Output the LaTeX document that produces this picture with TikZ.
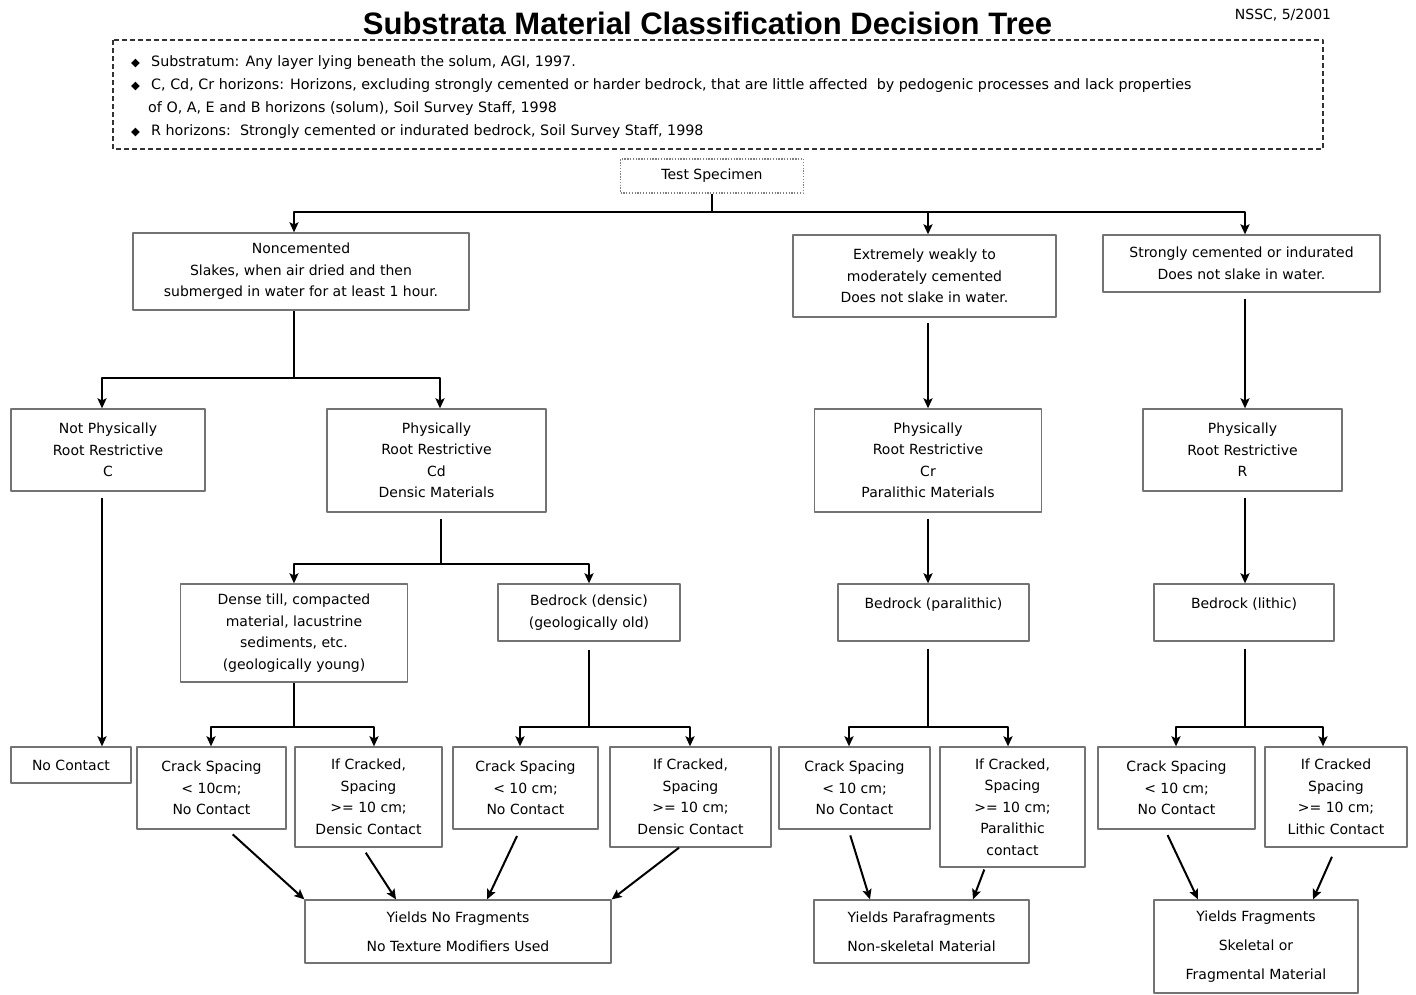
\documentclass[tikz,border=0pt]{standalone}
\usepackage{fontspec}
\setmainfont{DejaVu Sans}
\newfontfamily\titlefont{Liberation Sans}
\usetikzlibrary{arrows.meta}
\begin{document}
\begin{tikzpicture}[x=1pt, y=-1pt, line join=round, >={Stealth[length=10pt,width=9pt,inset=2pt]},
	box/.style={draw=black!55, line width=1.3pt, align=center, inner sep=0pt, font=\fontsize{14}{21.5}\selectfont},
	sz/.style 2 args={minimum width=#1pt, minimum height=#2pt},
	topline/.style={text height=15pt, text depth=24pt},
	wide/.style={font=\fontsize{14}{29}\selectfont},
	link/.style={line width=2pt},
	arr/.style={link, ->}]
	\def\bul{\makebox[22pt][l]{\hspace{2pt}\raisebox{0.5pt}{\fontsize{11.5}{11.5}\selectfont ◆}}}
	\fill[white] (0,0) rectangle (1416,994);
	\useasboundingbox (0,0) rectangle (1416,994);
	% heading and notes
	\node (title) at (707.5,23) {\titlefont\bfseries\fontsize{31}{34}\selectfont Substrata Material Classification Decision Tree};
	\node (stamp) at (1283,15) {\fontsize{14}{16}\selectfont NSSC, 5/2001};
	\draw[black!80, line width=1.3pt, dash pattern=on 5pt off 3pt] (113,40) rectangle (1323,149);
	\node[anchor=west, align=left, inner sep=0pt, font=\fontsize{14.3}{23}\selectfont] (notes) at (129,97.5)
	{\bul Substratum: Any layer lying beneath the solum, AGI, 1997.\\
	\bul C, Cd, Cr horizons: Horizons, excluding strongly cemented or harder bedrock, that are little affected\ \ by pedogenic processes and lack properties\\
	\hspace{19pt}of O, A, E and B horizons (solum), Soil Survey Staff, 1998\\
	\bul R horizons:\ \ Strongly cemented or indurated bedrock, Soil Survey Staff, 1998};
	% boxes
	\node[box, draw=black!50, dash pattern=on 1.3pt off 1.5pt, sz={183}{34}] (test) at (712,176) {Test Specimen};
	\node[box, sz={336}{77}] (noncem) at (301,271.5) {Noncemented\\Slakes, when air dried and then\\submerged in water for at least 1 hour.};
	\node[box, sz={263}{82}] (weak) at (924.5,276) {Extremely weakly to\\moderately cemented\\Does not slake in water.};
	\node[box, sz={277}{57}] (strong) at (1241.5,263.5) {Strongly cemented or indurated\\Does not slake in water.};
	\node[box, sz={194}{82}] (notphys) at (108,450) {Not Physically\\Root Restrictive\\C};
	\node[box, sz={219}{103}] (cd) at (436.5,460.5) {Physically\\Root Restrictive\\Cd\\Densic Materials};
	\node[box, sz={227}{103}] (cr) at (928,460.5) {Physically\\Root Restrictive\\Cr\\Paralithic Materials};
	\node[box, sz={199}{82}] (r) at (1242.5,450) {Physically\\Root Restrictive\\R};
	\node[box, sz={227}{98}] (till) at (294,633) {Dense till, compacted\\material, lacustrine\\sediments, etc.\\(geologically young)};
	\node[box, sz={182}{57}] (densic) at (589,612.5) {Bedrock (densic)\\(geologically old)};
	\node[box, topline, sz={191}{57}] (paral) at (933.5,612.5) {Bedrock (paralithic)};
	\node[box, topline, sz={180}{57}] (lithic) at (1244,612.5) {Bedrock (lithic)};
	\node[box, sz={120}{36}] (nocon) at (71,765) {No Contact};
	\node[box, sz={149}{82}] (crack1) at (211.5,788) {Crack Spacing\\< 10cm;\\No Contact};
	\node[box, sz={147}{100}] (cracked1) at (368.5,797) {If Cracked,\\Spacing\\>= 10 cm;\\Densic Contact};
	\node[box, sz={145}{82}] (crack2) at (525.5,788) {Crack Spacing\\< 10 cm;\\No Contact};
	\node[box, sz={161}{100}] (cracked2) at (690.5,797) {If Cracked,\\Spacing\\>= 10 cm;\\Densic Contact};
	\node[box, sz={151}{82}] (crack3) at (854.5,788) {Crack Spacing\\< 10 cm;\\No Contact};
	\node[box, sz={145}{120}] (cracked3) at (1012.5,807) {If Cracked,\\Spacing\\>= 10 cm;\\Paralithic\\contact};
	\node[box, sz={157}{82}] (crack4) at (1176.5,788) {Crack Spacing\\< 10 cm;\\No Contact};
	\node[box, sz={142}{100}] (cracked4) at (1336,797) {If Cracked\\Spacing\\>= 10 cm;\\Lithic Contact};
	\node[box, wide, sz={306}{63}] (nofrag) at (458,931.5) {Yields No Fragments\\No Texture Modifiers Used};
	\node[box, wide, sz={215}{63}] (parafrag) at (921.5,931.5) {Yields Parafragments\\Non-skeletal Material};
	\node[box, wide, sz={204}{93}] (frag) at (1256,946.5) {Yields Fragments\\Skeletal or\\Fragmental Material};
	% first split
	\draw[link] (test.south) -- ++(0,18) coordinate (t1);
	\draw[arr] (t1) -| ([xshift=-7pt]noncem.north);
	\draw[arr] (t1) -| ([xshift=3.5pt]weak.north);
	\draw[arr] (t1) -| ([xshift=3.5pt]strong.north);
	% noncemented
	\draw[link] ([xshift=-7pt]noncem.south) -- ++(0,67) coordinate (n1);
	\draw[arr] (n1) -| ([xshift=-6pt]notphys.north);
	\draw[arr] (n1) -| ([xshift=3.5pt]cd.north);
	\draw[arr, shorten <=6pt] ([xshift=-6pt]notphys.south) -- ([xshift=-6pt]notphys.south |- nocon.north);
	\draw[link, shorten <=6pt] ([xshift=4.5pt]cd.south) -- ++(0,51) coordinate (c1);
	\draw[arr] (c1) -| (till.north);
	\draw[arr] (c1) -| (densic.north);
	% cemented
	\draw[arr, shorten <=5pt] (cr.north |- weak.south) -- (cr.north);
	\draw[arr, shorten <=6pt] ([xshift=2.5pt]r.north |- strong.south) -- ([xshift=2.5pt]r.north);
	\draw[arr, shorten <=6pt] (cr.south) -- (cr.south |- paral.north);
	\draw[arr, shorten <=6pt] ([xshift=2.5pt]r.south) -- ([xshift=2.5pt]r.south |- lithic.north);
	% crack spacing
	\draw[link] (till.south) -- ++(0,44) coordinate (d1);
	\draw[arr] (d1) -| ([xshift=-0.5pt]crack1.north);
	\draw[arr] (d1) -| ([xshift=5.5pt]cracked1.north);
	\draw[link, shorten <=8pt] (densic.south) -- ++(0,85) coordinate (d2);
	\draw[arr] (d2) -| ([xshift=-5.5pt]crack2.north);
	\draw[arr] (d2) -| ([xshift=-0.5pt]cracked2.north);
	\draw[link, shorten <=7pt] ([xshift=-5.5pt]paral.south) -- ++(0,85) coordinate (d3);
	\draw[arr] (d3) -| ([xshift=-5.5pt]crack3.north);
	\draw[arr] (d3) -| ([xshift=-4.5pt]cracked3.north);
	\draw[link, shorten <=7pt] ([xshift=1pt]lithic.south) -- ++(0,85) coordinate (d4);
	\draw[arr] (d4) -| ([xshift=-0.5pt]crack4.north);
	\draw[arr] (d4) -| ([xshift=-13pt]cracked4.north);
	% fragments
	\draw[arr, shorten <=7pt] ([xshift=16pt]crack1.south) -- (nofrag.north west);
	\draw[arr, shorten <=6pt] ([xshift=-6pt]cracked1.south) -- ([xshift=-62pt]nofrag.north);
	\draw[arr, shorten <=7pt] ([xshift=-5.5pt]crack2.south) -- ([xshift=29pt]nofrag.north);
	\draw[arr] ([xshift=-11.5pt]cracked2.south) -- (nofrag.north east);
	\draw[arr, shorten <=6pt] ([xshift=-6pt]crack3.south) -- ([xshift=-51.5pt]parafrag.north);
	\draw[arr, shorten <=2pt] ([xshift=-27.5pt]cracked3.south) -- ([xshift=51.5pt]parafrag.north);
	\draw[arr, shorten <=6pt] ([xshift=-11.5pt]crack4.south) -- ([xshift=-58pt]frag.north);
	\draw[arr, shorten <=10pt] (cracked4.south) -- ([xshift=57pt]frag.north);
\end{tikzpicture}
\end{document}
